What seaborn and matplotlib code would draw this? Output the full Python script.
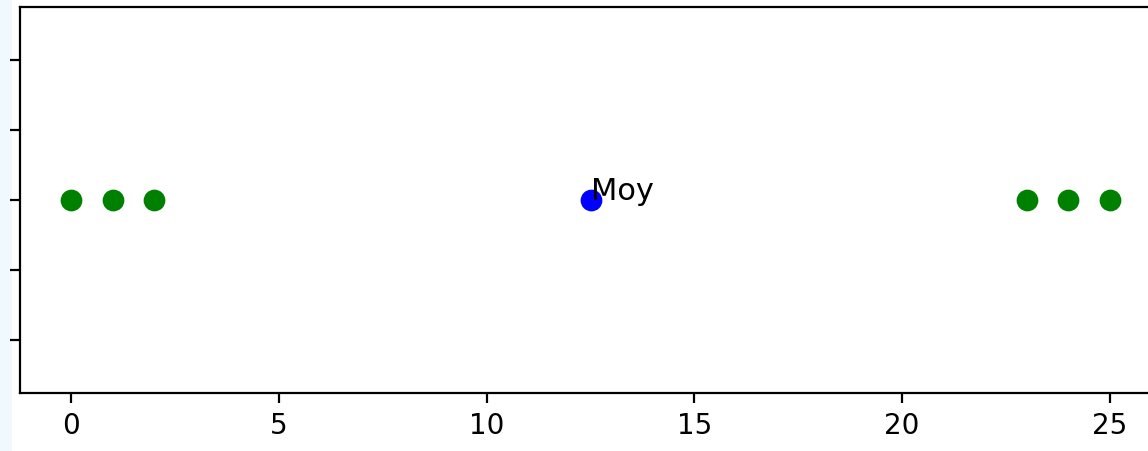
import matplotlib
matplotlib.use("Agg")
import matplotlib.pyplot as plt
import matplotlib.patches as mpatches
import numpy as np
import pandas as pd
import seaborn as sns

# Values placed along a single horizontal line
values = [0, 1, 2, 23, 24, 25]
levels = [0, 0, 0, 0, 0, 0]
mean_label = "Moy"

mean_value = float(np.mean(values))
df = pd.DataFrame({"x": values, "y": levels})
df_mean = pd.DataFrame({"x": [mean_value], "y": [0.0]})

plt.rcParams["font.family"] = ["DejaVu Sans"]

W, H, DPI = 1148, 451, 200
fig = plt.figure(figsize=(W / DPI, H / DPI), dpi=DPI, facecolor="white")

# light page strip along the left edge
fig.patches.append(mpatches.Rectangle((0, 0), 12 / W, 1, transform=fig.transFigure,
                                      facecolor="#f0f9fd", edgecolor="none", zorder=-1))

ax = fig.add_axes([19.5 / W, 58 / H, 1142 / W, 386 / H])
ax.set_facecolor("white")

sns.scatterplot(data=df, x="x", y="y", color="green", edgecolor="green",
                s=40, linewidth=1.5, ax=ax, legend=False)
sns.scatterplot(data=df_mean, x="x", y="y", color="blue", edgecolor="blue",
                s=40, linewidth=1.5, ax=ax, legend=False)
ax.text(mean_value, 0.0, mean_label, fontsize=11)

ax.set_xlabel("")
ax.set_ylabel("")
ax.set_xlim(-1.25, 26.25)
ax.set_ylim(-0.055, 0.055)
ax.set_xticks([0, 5, 10, 15, 20, 25])
ax.set_yticks([-0.04, -0.02, 0.0, 0.02, 0.04])
# y tick labels would sit outside the canvas; keep only the tick marks
ax.tick_params(axis="y", labelleft=False)
for s in ax.spines.values():
    s.set_color("black")
    s.set_linewidth(0.8)

fig.savefig("out.png", dpi=DPI)
